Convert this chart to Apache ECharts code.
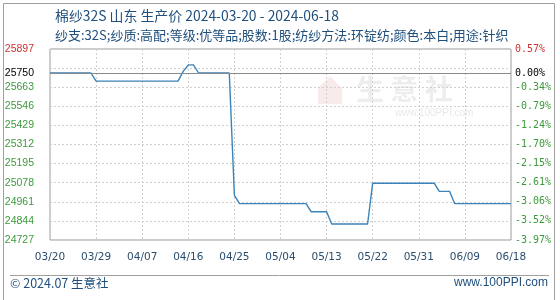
<!DOCTYPE html>
<html><head><meta charset="utf-8">
<script src="https://cdn.jsdelivr.net/npm/echarts@6/dist/echarts.min.js"></script>
<style>html,body{margin:0;padding:0;background:#fff}#c{width:560px;height:300px}</style>
</head><body><div id="c"></div>
<script>
var titleText = '棉纱32S 山东 生产价 2024-03-20 - 2024-06-18';
var subText = '纱支:32S;纱质:高配;等级:优等品;股数:1股;纺纱方法:环锭纺;颜色:本白;用途:针织';
var dates = ['2024-03-20','2024-03-28','2024-03-29','2024-04-14','2024-04-15','2024-04-16','2024-04-17','2024-04-18','2024-04-24','2024-04-25','2024-04-26','2024-05-09','2024-05-10','2024-05-13','2024-05-14','2024-05-21','2024-05-22','2024-06-03','2024-06-04','2024-06-06','2024-06-07','2024-06-18'];
var prices = [25750,25750,25700,25700,25760,25800,25800,25750,25750,25000,24950,24950,24900,24900,24825,24825,25075,25075,25025,25025,24950,24950];
var basePrice = 25750;
var leftTicks = ['24727','24844','24961','25078','25195','25312','25429','25546','25663','','25897'];
var rightTicks = ['-3.97%','-3.52%','-3.06%','-2.61%','-2.15%','-1.70%','-1.24%','-0.79%','-0.34%','','0.57%'];
var startDate = '2024-03-20';

function dayIdx(s){var p=s.split('-');var q=startDate.split('-');return Math.round((Date.UTC(+p[0],p[1]-1,+p[2])-Date.UTC(+q[0],q[1]-1,+q[2]))/86400000);}
function dayLabel(d){var q=startDate.split('-');var t=new Date(Date.UTC(+q[0],q[1]-1,+q[2])+d*86400000);var m=t.getUTCMonth()+1,dd=t.getUTCDate();return (m<10?'0':'')+m+'/'+(dd<10?'0':'')+dd;}
var seriesData = dates.map(function(d,i){return [dayIdx(d),prices[i]];});

var yMin=24727, yMax=25897, yStep=117;
function tickIdx(v){return Math.round((v-yMin)/yStep);}
function tickColor(i){return i===10?'#cc3333':'#3d9a3d';}

var chart = echarts.init(document.getElementById('c'),null,{renderer:'canvas'});
var txtColor='#1f4f7c';
chart.setOption({
  animation:false,
  backgroundColor:'#fff',
  title:[
    {text:titleText,left:50,top:4,textStyle:{fontSize:13.9,fontWeight:'normal',color:txtColor,fontFamily:'Noto Sans CJK SC'}},
    {text:subText,left:50,top:24,textStyle:{fontSize:13,fontWeight:'normal',color:txtColor,fontFamily:'Noto Sans CJK SC'}}
  ],
  grid:{left:50,right:49,top:49,bottom:60,show:true,borderColor:'#999',borderWidth:1},
  graphic:[
    {type:'rect',left:1,top:1,shape:{width:551,height:298},style:{fill:'none',stroke:'#a0a0a0',lineWidth:1},silent:true},
    {type:'line',shape:{x1:10,y1:275.5,x2:549,y2:275.5},style:{stroke:'#a0a0a0',lineWidth:1},silent:true},
    {type:'text',left:10,top:277,style:{text:'© 2024.07 生意社',fontSize:12.5,fill:txtColor,fontFamily:'Noto Sans CJK SC'}},
    {type:'text',right:12,top:277,style:{text:'www.100PPI.com',fontSize:12,fill:txtColor,fontFamily:'Liberation Sans'}},
    {type:'polygon',shape:{points:[[318,88],[330,76],[342,88],[342,104],[318,104]]},style:{fill:'rgba(220,110,110,0.14)'},silent:true,z:-1},
    {type:'text',left:356,top:75,style:{text:'生 意 社',fontSize:28,fill:'rgba(190,190,190,0.28)',fontFamily:'Noto Sans CJK SC',fontWeight:'bold'},silent:true,z:-1},
    {type:'text',left:395,top:108,style:{text:'www.100PPI.com',fontSize:10,fill:'rgba(190,190,190,0.35)',fontFamily:'Liberation Sans'},silent:true,z:-1}
  ],
  xAxis:{type:'value',min:0,max:90,interval:9,
    axisLine:{show:false},axisTick:{show:false},
    splitLine:{show:true,lineStyle:{color:'#cfcfcf',type:[2,2],width:1}},
    axisLabel:{margin:12,fontSize:10.5,color:'#2a4d6e',fontFamily:'DejaVu Sans',formatter:function(v){return dayLabel(v);}}
  },
  yAxis:[
    {type:'value',min:yMin,max:yMax,interval:yStep,position:'left',
      axisLine:{show:false},axisTick:{show:false},
      splitLine:{show:true,lineStyle:{color:'#cfcfcf',type:[2,2],width:1}},
      axisLabel:{margin:16,fontSize:10.5,fontFamily:'Liberation Sans',
        formatter:function(v){return leftTicks[tickIdx(v)];},
        color:function(v){return tickColor(tickIdx(v));}}
    },
    {type:'value',min:yMin,max:yMax,interval:yStep,position:'right',
      axisLine:{show:false},axisTick:{show:false},splitLine:{show:false},
      axisLabel:{margin:4,fontSize:10,fontFamily:'DejaVu Sans Mono',
        formatter:function(v){return rightTicks[tickIdx(v)];},
        color:function(v){return tickColor(tickIdx(v));}}
    }
  ],
  series:[{
    type:'line',data:seriesData,showSymbol:false,symbol:'none',
    lineStyle:{color:'#3b83b8',width:1.4},
    z:3,
    markLine:{silent:true,symbol:'none',
      lineStyle:{color:'#8a8a8a',type:'solid',width:1},
      data:[
        {yAxis:basePrice,label:{position:'start',formatter:'25750',color:'#000',fontSize:10.5,fontFamily:'Liberation Sans',distance:16}},
        {yAxis:basePrice,label:{position:'end',formatter:'0.00%',color:'#000',fontSize:10,fontFamily:'DejaVu Sans Mono',distance:4}}
      ]}
  }]
});
</script></body></html>
